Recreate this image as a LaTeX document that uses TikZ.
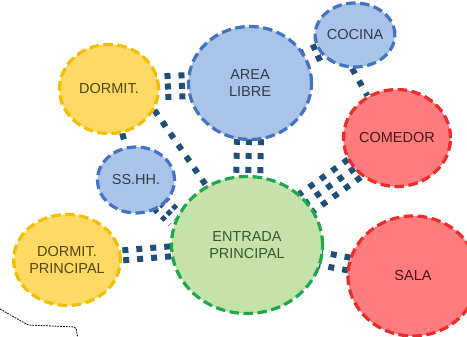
\documentclass[tikz,border=0pt]{standalone}
\usepackage{fontspec}
\setmainfont{Liberation Sans}
\usetikzlibrary{shapes.geometric,calc,backgrounds}

\definecolor{navy}{HTML}{1F4E79}
\definecolor{bluefl}{HTML}{A9C4E8}
\definecolor{blueln}{HTML}{4472C4}
\definecolor{bluetx}{HTML}{343C4A}
\definecolor{yellfl}{HTML}{FFD966}
\definecolor{yellln}{HTML}{F2BE00}
\definecolor{yelltx}{HTML}{54440C}
\definecolor{redfl}{HTML}{FF7C7E}
\definecolor{redln}{HTML}{EE2A2A}
\definecolor{redtx}{HTML}{4A1414}
\definecolor{grnfl}{HTML}{C5E2A8}
\definecolor{grnln}{HTML}{1EA84E}
\definecolor{grntx}{HTML}{3A5636}

\tikzset{
  room/.style={ellipse, inner sep=0pt, line width=3.2pt,
    dash pattern=on 9.5pt off 4.5pt, align=center,
    font=\fontsize{14.5}{17.5}\selectfont},
  bluerm/.style={room, draw=blueln, fill=bluefl, text=bluetx},
  yellrm/.style={room, draw=yellln, fill=yellfl, text=yelltx},
  redrm/.style={room, draw=redln, fill=redfl, text=redtx},
  grnrm/.style={room, draw=grnln, fill=grnfl, text=grntx},
  conn/.style={draw=navy, line width=6pt, dash pattern=on 6pt off 8pt},
}

\begin{document}
\begin{tikzpicture}[x=1pt,y=-1pt]
\useasboundingbox (0,0) rectangle (467,337);
\clip (0,0) rectangle (467,337);

% rooms
\node[bluerm, minimum width=123pt, minimum height=113pt] (area) at (250,83) {AREA\\LIBRE};
\node[bluerm, minimum width=78pt, minimum height=64pt] (cocina) at (355,35) {COCINA};
\node[redrm, minimum width=102pt, minimum height=97pt] (comedor) at (397,138) {COMEDOR};
\node[yellrm, minimum width=99pt, minimum height=89pt] (dorm) at (109,89) {DORMIT.};
\node[bluerm, minimum width=77pt, minimum height=66pt] (sshh) at (136,180) {SS.HH.};
\node[grnrm, minimum width=151pt, minimum height=137pt] (entrada) at (247,245) {ENTRADA\\PRINCIPAL};
\node[yellrm, minimum width=101pt, minimum height=91pt] (dormp) at (67,260) {DORMIT.\\PRINCIPAL};
\node[redrm, minimum width=130pt, minimum height=120pt] (sala) at (413,276) {SALA};

% links
\begin{scope}[on background layer]
\foreach \o in {-10.5,0,10.5}
  \draw[conn] ($(dorm)!\o pt!90:(area)$) -- ($(area)!\o pt!-90:(dorm)$);
\foreach \o in {-12,0,12}
  \draw[conn] ($(area)!\o pt!90:(entrada)$) -- ($(entrada)!\o pt!-90:(area)$);
\foreach \o in {-11,0,11}
  \draw[conn] ($(entrada)!\o pt!90:(comedor)$) -- ($(comedor)!\o pt!-90:(entrada)$);
\foreach \o in {-6,6}
  \draw[conn] ($(area)!\o pt!90:(cocina)$) -- ($(cocina)!\o pt!-90:(area)$);
\foreach \o in {-5,5}
  \draw[conn] ($(dormp)!\o pt!90:(entrada)$) -- ($(entrada)!\o pt!-90:(dormp)$);
\foreach \o in {-6.5,6.5}
  \draw[conn] ($(entrada)!\o pt!90:(sala)$) -- ($(sala)!\o pt!-90:(entrada)$);
\foreach \o in {-8,0,8}
  \draw[conn, line width=5pt, dash pattern=on 5pt off 6pt]
    ($(sshh)!\o pt!90:(entrada.160)$) -- ($(entrada.160)!\o pt!-90:(sshh)$);
\draw[conn] (dorm.-25) -- (entrada);
\draw[conn] (dorm) -- (sshh);
\draw[conn] (cocina.-95) -- (comedor.125);
\end{scope}

\draw[line width=0.8pt, dash pattern=on 1.8pt off 1pt, rounded corners=2pt]
  (0,309) -- (28,325) -- (76,327) -- (78,340);
\end{tikzpicture}
\end{document}
